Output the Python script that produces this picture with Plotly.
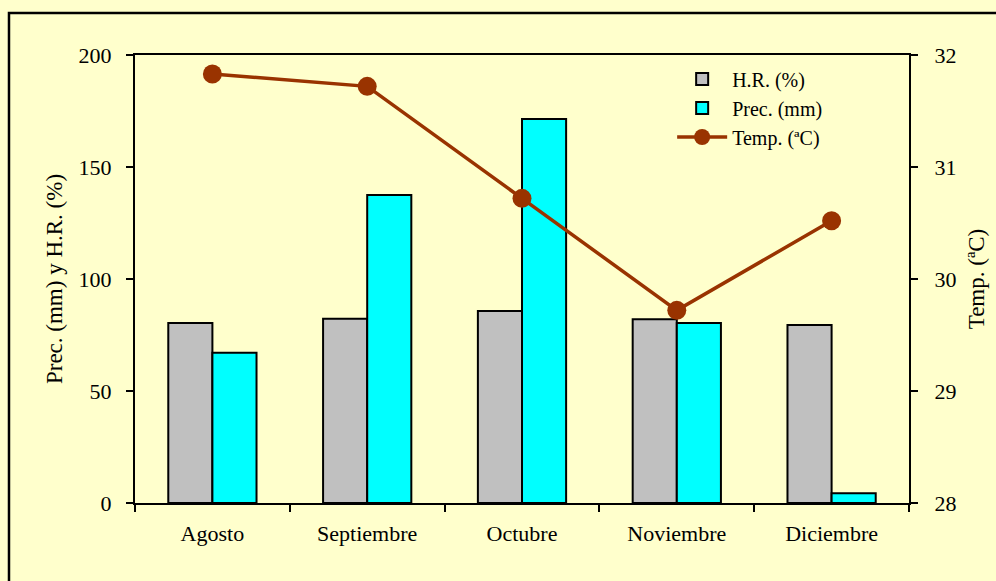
import plotly.graph_objects as go

# Monthly climate data
meses = ["Agosto", "Septiembre", "Octubre", "Noviembre", "Diciembre"]
hr_pct = [80.4, 82.3, 85.7, 82.0, 79.5]        # H.R. (%)
prec_mm = [67.1, 137.5, 171.4, 80.4, 4.3]      # Prec. (mm)
temp_c = [31.83, 31.72, 30.72, 29.72, 30.52]   # Temp. (ºC)

left_ticks = [0, 50, 100, 150, 200]
right_ticks = [28, 29, 30, 31, 32]

BG = "#FFFFCC"
FONT = "Liberation Serif"
TICK_FONT = dict(family=FONT, size=22, color="black")
TITLE_FONT = dict(family=FONT, size=23, color="black")

fig = go.Figure()
fig.add_trace(go.Bar(
    x=meses, y=hr_pct, name="H.R. (%)",
    marker=dict(color="#C0C0C0", line=dict(color="black", width=2)),
))
fig.add_trace(go.Bar(
    x=meses, y=prec_mm, name="Prec. (mm)",
    marker=dict(color="#00FFFF", line=dict(color="black", width=2)),
))
fig.add_trace(go.Scatter(
    x=meses, y=temp_c, name="Temp. (ªC)", yaxis="y2",
    mode="lines+markers",
    line=dict(color="#993300", width=3.5),
    marker=dict(color="#993300", size=19),
))

fig.update_layout(
    width=996, height=581,
    margin=dict(l=135, r=87, t=55, b=78, autoexpand=False),
    paper_bgcolor=BG, plot_bgcolor=BG,
    font=dict(family=FONT, size=20, color="black"),
    barmode="group", bargap=0.43, bargroupgap=0,
    showlegend=True,
    legend=dict(
        x=0.694, y=0.99, xanchor="left", yanchor="top",
        bgcolor="rgba(0,0,0,0)", font=dict(family=FONT, size=20, color="black"),
        tracegroupgap=0, itemwidth=50,
    ),
    xaxis=dict(
        automargin=False,
        showline=True, linecolor="black", linewidth=2, mirror=True,
        ticks="outside", ticklen=7, tickwidth=2, tickcolor="black",
        tickson="boundaries", ticklabelstandoff=10, tickfont=TICK_FONT,
        showgrid=False, zeroline=False,
    ),
    yaxis=dict(
        automargin=False,
        range=[0, 200], tickvals=left_ticks, tickfont=TICK_FONT,
        showline=True, linecolor="black", linewidth=2,
        ticks="outside", ticklen=7, tickwidth=2, tickcolor="black",
        ticklabelstandoff=10,
        showgrid=False, zeroline=False,
        title=dict(text="Prec. (mm) y H.R. (%)", standoff=10, font=TITLE_FONT),
    ),
    yaxis2=dict(
        automargin=False,
        range=[28, 32], tickvals=right_ticks, overlaying="y", side="right",
        tickfont=TICK_FONT,
        showline=True, linecolor="black", linewidth=2,
        ticks="outside", ticklen=7, tickwidth=2, tickcolor="black",
        ticklabelstandoff=12,
        showgrid=False, zeroline=False,
        title=dict(text="Temp. (ªC)", standoff=12, font=TITLE_FONT),
    ),
    shapes=[dict(
        type="rect", xref="paper", yref="paper",
        x0=-0.1628, x1=1.5, y0=-1.0, y1=1.0938,
        line=dict(color="black", width=2.5), fillcolor="rgba(0,0,0,0)",
        layer="above",
    )],
)

fig.write_html("out.html")
